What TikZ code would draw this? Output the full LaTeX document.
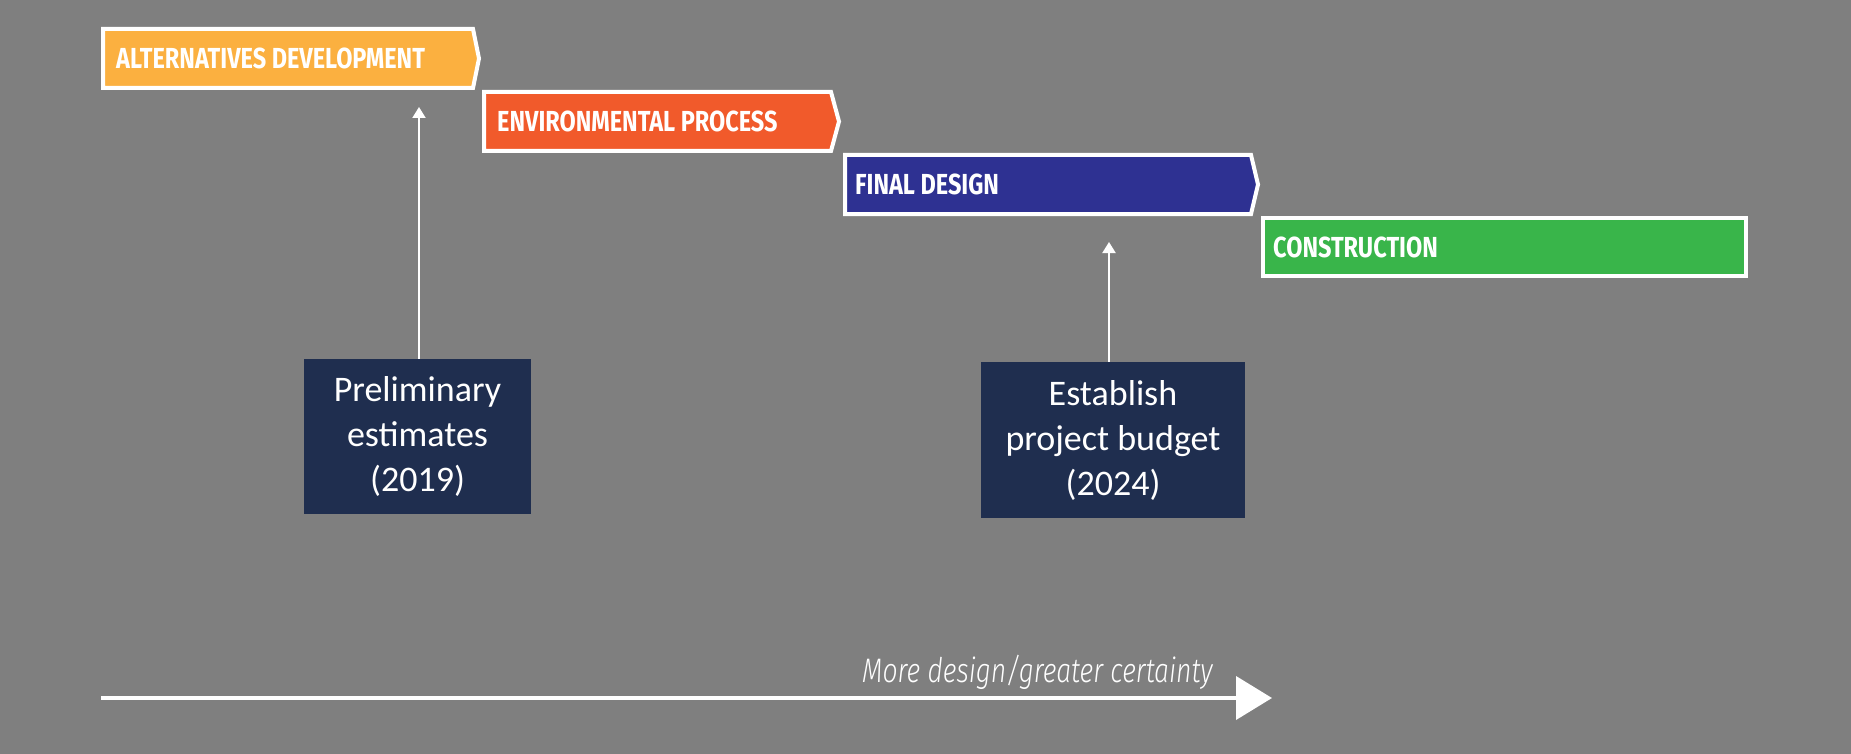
\documentclass[tikz,border=0pt]{standalone}
\usepackage{fontspec}
\usetikzlibrary{arrows.meta}
\setmainfont{Carlito}
\newfontfamily\barfont[FakeStretch=0.81]{Fira Sans}
\newfontfamily\capfont[FakeStretch=0.78]{Fira Sans Light}
\definecolor{bggray}{HTML}{7F7F7F}
\definecolor{altorange}{HTML}{FBB040}
\definecolor{envred}{HTML}{F15A2B}
\definecolor{finblue}{HTML}{2E3192}
\definecolor{congreen}{HTML}{39B54A}
\definecolor{navybox}{HTML}{1F2E4F}
\tikzset{
  barshape/.style={draw=white, line width=4pt, line join=miter},
  bartext/.style={anchor=west, inner sep=0pt, text=white, font=\barfont\bfseries\fontsize{29}{32}\selectfont},
  notebox/.style={fill=navybox, text=white, align=center, inner sep=0pt, font=\fontsize{36}{45}\selectfont},
  uparrow/.style={draw=white, line width=2pt, -{Triangle[length=11pt,width=13pt]}},
  mainarrow/.style={draw=white, line width=4pt, -{Triangle[length=36pt,width=43pt]}}
}
\begin{document}
\begin{tikzpicture}[x=1pt,y=-1pt]
\fill[bggray] (0,0) rectangle (1851,754);
\useasboundingbox (0,0) rectangle (1851,754);
% bars
\draw[barshape, fill=altorange] (103,29) -- (473,29) -- (479,58.5) -- (473,88) -- (103,88) -- cycle;
\draw[barshape, fill=envred] (484,92) -- (831,92) -- (839,121.5) -- (831,151) -- (484,151) -- cycle;
\draw[barshape, fill=finblue] (845,155) -- (1251,155) -- (1258,184.5) -- (1251,214) -- (845,214) -- cycle;
\draw[barshape, fill=congreen] (1263,218) rectangle (1746,276);
\node[bartext] (alt) at (116,58.5) {ALTERNATIVES DEVELOPMENT};
\node[bartext] (env) at (497,121.5) {ENVIRONMENTAL PROCESS};
\node[bartext] (fin) at (855,184.5) {FINAL DESIGN};
\node[bartext] (con) at (1273,247) {CONSTRUCTION};
% note boxes
\node[notebox, minimum width=227pt, minimum height=155pt] (prelim) at (417.5,436.5) {Preliminary\\estimates\\(2019)};
\node[notebox, minimum width=264pt, minimum height=156pt] (budget) at (1113,440) {Establish\\project budget\\(2024)};
\coordinate (prelimtip) at (419,107);
\coordinate (budgettip) at (1109,242);
\draw[uparrow] (prelim.north -| prelimtip) -- (prelimtip);
\draw[uparrow] (budget.north -| budgettip) -- (budgettip);
% bottom arrow
\coordinate (axstart) at (101,698);
\coordinate (axend) at (1272,698);
\draw[mainarrow] (axstart) -- (axend);
\node[anchor=base west, inner sep=0pt, text=white, font=\capfont\itshape\fontsize{34}{40}\selectfont] (caption) at (862,682) {More design/greater certainty};
\end{tikzpicture}
\end{document}
